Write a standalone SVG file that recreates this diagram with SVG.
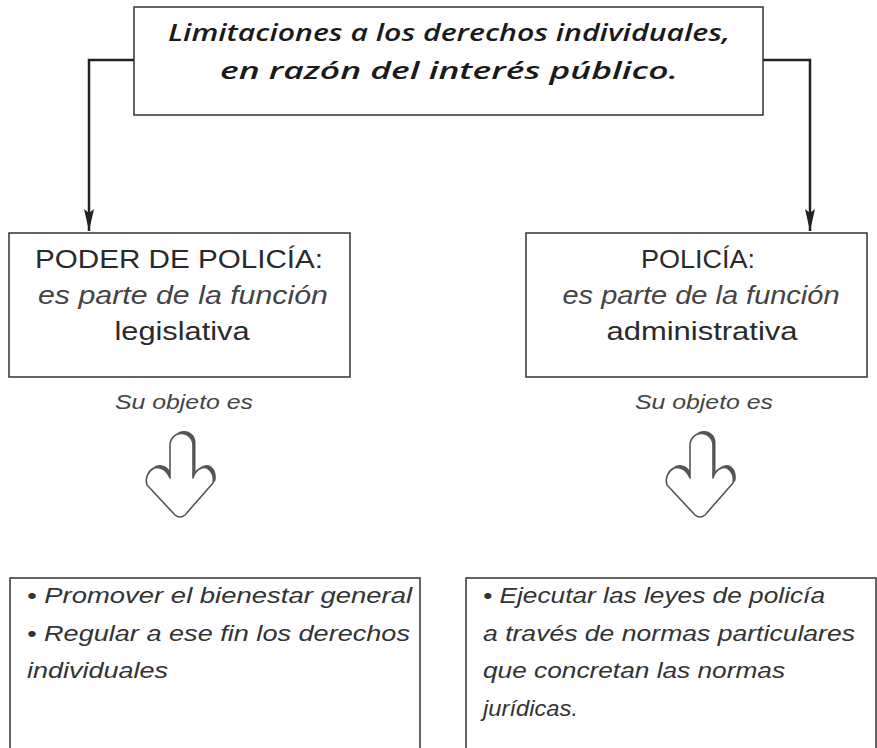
<svg xmlns="http://www.w3.org/2000/svg" width="877" height="748" viewBox="0 0 877 748">
<style>
.box{fill:#fff;stroke:#333;stroke-width:1.5}
.t{font-family:"Liberation Sans",Arial,sans-serif;fill:#222}
.top{font-family:"Open Sans","Liberation Sans",sans-serif;font-size:24px;font-style:italic;font-weight:600;fill:#1a1a1a}
.mid{font-size:25px;fill:#2a2a2a}
.it{font-style:italic}
.sub{font-size:21px;font-style:italic;fill:#444}
.bul{font-size:22px;font-style:italic;fill:#333}
.con{fill:none;stroke:#222;stroke-width:2.5}
.hand{fill:#fff;stroke:#555;stroke-width:1.6;stroke-linejoin:round}
.shadow{fill:#555}
</style>
<defs>
<marker id="ah" viewBox="0 0 22 10" refX="22" refY="5" markerWidth="22" markerHeight="10" markerUnits="userSpaceOnUse" orient="auto">
<path d="M0,0 L22,5 L0,10 L4,5 Z" fill="#222"/>
</marker>
<path id="handShape" d="M-10,45 L-10,12 A11.5,11.5 0 0 1 13,12 L13,45 C15,37 22,33 27,35 C33,38 34,45 33,50 L5,82 Q0,86 -5,82 L-33,52 C-35,45 -32,38 -26,35 C-20,33 -13,37 -10,45 Z"/>
</defs>
<g id="connectors">
<path class="con" d="M134,60 H89 V231" marker-end="url(#ah)"/>
<path class="con" d="M763,60 H810 V231" marker-end="url(#ah)"/>
</g>
<g id="top">
<rect class="box" x="134" y="7" width="629" height="108"/>
<text class="t top" x="449" y="41" text-anchor="middle" textLength="562" lengthAdjust="spacingAndGlyphs">Limitaciones a los derechos individuales,</text>
<text class="t top" x="449" y="79" text-anchor="middle" textLength="458" lengthAdjust="spacingAndGlyphs">en razón del interés público.</text>
</g>
<g id="poder">
<rect class="box" x="9" y="233" width="341" height="144"/>
<text class="t mid" x="179" y="268" text-anchor="middle" textLength="288" lengthAdjust="spacingAndGlyphs">PODER DE POLICÍA:</text>
<text class="t mid it" x="183" y="304" text-anchor="middle" textLength="290" lengthAdjust="spacingAndGlyphs" style="fill:#444">es parte  de la función</text>
<text class="t mid" x="182" y="340" text-anchor="middle" textLength="135" lengthAdjust="spacingAndGlyphs">legislativa</text>
</g>
<g id="policia">
<rect class="box" x="526" y="233" width="341" height="144"/>
<text class="t mid" x="698" y="268" text-anchor="middle" textLength="114" lengthAdjust="spacingAndGlyphs">POLICÍA:</text>
<text class="t mid it" x="701" y="304" text-anchor="middle" textLength="277" lengthAdjust="spacingAndGlyphs" style="fill:#444">es parte de la función</text>
<text class="t mid" x="702" y="340" text-anchor="middle" textLength="191" lengthAdjust="spacingAndGlyphs">administrativa</text>
</g>
<g id="objeto-left">
<text class="t sub" x="184" y="409" text-anchor="middle" textLength="138" lengthAdjust="spacingAndGlyphs">Su objeto es</text>
<use href="#handShape" class="shadow" transform="translate(182.5,430.5)"/>
<use href="#handShape" class="hand" transform="translate(180,433)"/>
</g>
<g id="objeto-right">
<text class="t sub" x="704" y="409" text-anchor="middle" textLength="138" lengthAdjust="spacingAndGlyphs">Su objeto es</text>
<use href="#handShape" class="shadow" transform="translate(702.5,430.5)"/>
<use href="#handShape" class="hand" transform="translate(700,433)"/>
</g>
<g id="fines-left">
<path class="box" d="M10,760 V578 H420 V760"/>
<text class="t bul" x="27" y="603" textLength="385" lengthAdjust="spacingAndGlyphs">• Promover el bienestar general</text>
<text class="t bul" x="27" y="641" textLength="383" lengthAdjust="spacingAndGlyphs">• Regular a ese fin los derechos</text>
<text class="t bul" x="27" y="678" textLength="141" lengthAdjust="spacingAndGlyphs">individuales</text>
</g>
<g id="fines-right">
<path class="box" d="M466,760 V578 H876 V760"/>
<text class="t bul" x="483" y="603" textLength="342" lengthAdjust="spacingAndGlyphs">• Ejecutar las leyes de policía</text>
<text class="t bul" x="483" y="641" textLength="372" lengthAdjust="spacingAndGlyphs">a través de normas particulares</text>
<text class="t bul" x="483" y="678" textLength="302" lengthAdjust="spacingAndGlyphs">que concretan las normas</text>
<text class="t bul" x="483" y="716" textLength="95" lengthAdjust="spacingAndGlyphs">jurídicas.</text>
</g>
</svg>
